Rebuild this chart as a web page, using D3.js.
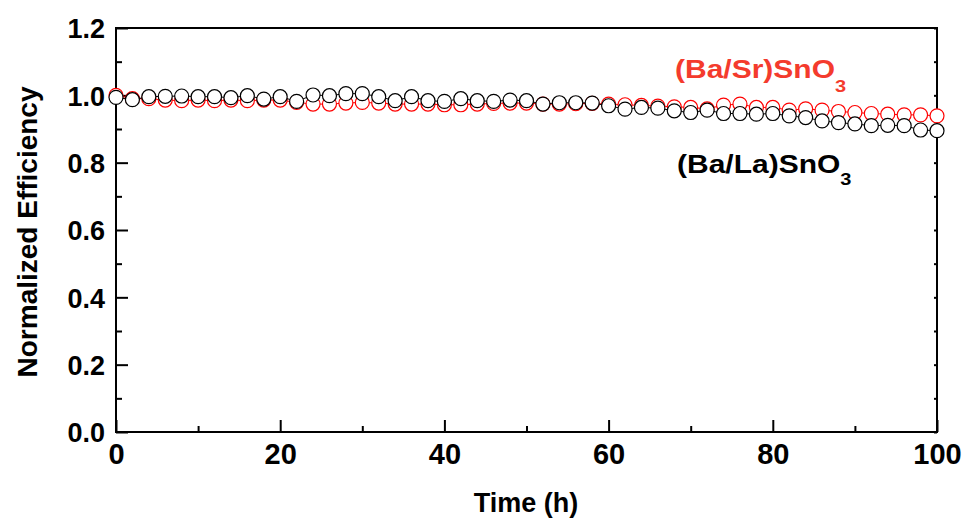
<!DOCTYPE html>
<html>
<head>
<meta charset="utf-8">
<script src="https://cdn.jsdelivr.net/npm/d3@7"></script>
<style>
  body { margin: 0; background: #fff; }
  svg { display: block; font-family: "Liberation Sans", Arial, sans-serif; font-weight: bold; }
</style>
</head>
<body>
<div id="chart"></div>
<script>
// data
const timeH = [0, 2, 4, 6, 8, 10, 12, 14, 16, 18, 20, 22, 24, 26, 28, 30, 32, 34, 36, 38, 40,
    42, 44, 46, 48, 50, 52, 54, 56, 58, 60, 62, 64, 66, 68, 70, 72, 74, 76, 78, 80,
    82, 84, 86, 88, 90, 92, 94, 96, 98, 100];

const baSr = [1.000, 0.990, 0.990, 0.986, 0.984, 0.986, 0.984, 0.986, 0.984, 0.986, 0.986,
    0.979, 0.974, 0.974, 0.977, 0.979, 0.977, 0.974, 0.974, 0.974, 0.972,
    0.972, 0.974, 0.976, 0.977, 0.977, 0.974, 0.974, 0.975, 0.976, 0.974,
    0.972, 0.970, 0.968, 0.966, 0.964, 0.960, 0.971, 0.974, 0.964, 0.964,
    0.956, 0.960, 0.956, 0.952, 0.949, 0.946, 0.944, 0.942, 0.942, 0.939];

const baLa = [0.994, 0.987, 0.996, 0.997, 0.998, 0.996, 0.996, 0.993, 0.999, 0.989, 0.996,
    0.982, 1.001, 0.999, 1.005, 1.005, 0.996, 0.984, 0.996, 0.984, 0.982,
    0.990, 0.984, 0.982, 0.986, 0.984, 0.974, 0.978, 0.978, 0.977, 0.969,
    0.959, 0.964, 0.962, 0.954, 0.949, 0.956, 0.946, 0.946, 0.944, 0.946,
    0.939, 0.934, 0.924, 0.919, 0.915, 0.910, 0.911, 0.910, 0.897, 0.895];

const xTicks = [0, 20, 40, 60, 80, 100];
const yTicks = [0.0, 0.2, 0.4, 0.6, 0.8, 1.0, 1.2];

const width = 967, height = 526;
const margin = { top: 28, right: 30, bottom: 94, left: 116 };
const innerWidth = width - margin.left - margin.right;
const innerHeight = height - margin.top - margin.bottom;
const fontFam = "Liberation Sans, Arial, sans-serif";

const svg = d3.select("#chart")
    .append("svg")
    .attr("width", width)
    .attr("height", height);

const inner = svg.append("g")
    .attr("transform", `translate(${margin.left}, ${margin.top})`);

const xScale = d3.scaleLinear().domain([0, 100]).range([0, innerWidth]);
const yScale = d3.scaleLinear().domain([0, 1.2]).range([innerHeight, 0]);

// minor ticks (inside)
const xMinor = d3.axisBottom(xScale).tickValues(d3.range(10, 100, 20)).tickSize(-6).tickFormat("");
const yMinor = d3.axisLeft(yScale).tickValues([0.1, 0.3, 0.5, 0.7, 0.9, 1.1]).tickSize(-6).tickFormat("");

inner.append("g").attr("class", "minor")
    .attr("transform", `translate(0, ${innerHeight})`)
    .call(xMinor);
inner.append("g").attr("class", "minor").call(yMinor);

// small marks on the right side
inner.append("g").attr("class", "minor")
    .attr("transform", `translate(${innerWidth}, 0)`)
    .call(d3.axisRight(yScale).ticks(12).tickSize(-3).tickFormat(""));

// empty labels of the minor axes are not needed
inner.selectAll(".minor text").remove();

// main axes
const bottomAxis = d3.axisBottom(xScale).tickValues(xTicks).tickSize(-12).tickPadding(11)
    .tickFormat(d3.format("d"));
inner.append("g").attr("class", "xaxis")
    .attr("transform", `translate(0, ${innerHeight})`)
    .call(bottomAxis)
    .attr("font-size", 29)
    .attr("font-family", fontFam)
    .attr("font-weight", "bold");

const leftAxis = d3.axisLeft(yScale).tickValues(yTicks).tickSize(-12).tickPadding(11)
    .tickFormat(d3.format(".1f"));
inner.append("g").attr("class", "yaxis")
    .call(leftAxis)
    .attr("font-size", 27)
    .attr("font-family", fontFam)
    .attr("font-weight", "bold");

inner.selectAll(".domain").remove();
inner.selectAll(".tick line").attr("stroke", "#000").attr("stroke-width", 2);
inner.selectAll(".xaxis text").attr("fill", "#000");
inner.selectAll(".yaxis text").attr("fill", "#000").attr("dy", "0.36em");

// frame
inner.append("rect")
    .attr("width", innerWidth)
    .attr("height", innerHeight)
    .attr("fill", "none")
    .attr("stroke", "#000")
    .attr("stroke-width", 2);

// series: red first, black on top
const series = [
    { name: "(Ba/Sr)SnO", values: baSr, colour: "#ff0000" },
    { name: "(Ba/La)SnO", values: baLa, colour: "#000000" }
];

const line = d3.line()
    .x((d, i) => xScale(timeH[i]))
    .y(d => yScale(d));

series.forEach(s => {
    inner.append("path")
        .datum(s.values)
        .attr("d", line)
        .attr("fill", "none")
        .attr("stroke", s.colour)
        .attr("stroke-width", 1);

    inner.append("g")
        .selectAll("circle")
        .data(s.values)
        .join("circle")
        .attr("cx", (d, i) => xScale(timeH[i]))
        .attr("cy", d => yScale(d))
        .attr("r", 7)
        .attr("fill", "#fff")
        .attr("stroke", s.colour)
        .attr("stroke-width", 1.2);
});

// series labels (the figure's lettering is slightly squashed vertically)
const lab1 = svg.append("text")
    .attr("transform", "translate(675, 78) scale(1, 0.86)")
    .attr("font-size", 30)
    .attr("fill", "#f43b2d");
lab1.append("tspan").text("(Ba/Sr)SnO");
lab1.append("tspan").attr("dy", 16).attr("font-size", 20).text("3");

const lab2 = svg.append("text")
    .attr("transform", "translate(677, 173) scale(1, 0.86)")
    .attr("font-size", 30)
    .attr("fill", "#000");
lab2.append("tspan").text("(Ba/La)SnO");
lab2.append("tspan").attr("dy", 14).attr("font-size", 20).text("3");

// axis titles
svg.append("text")
    .text("Time (h)")
    .attr("x", 526)
    .attr("y", 512)
    .attr("text-anchor", "middle")
    .attr("font-size", 27);

svg.append("text")
    .text("Normalized Efficiency")
    .attr("transform", "translate(37, 232) rotate(-90)")
    .attr("text-anchor", "middle")
    .attr("font-size", 28);
</script>
</body>
</html>
